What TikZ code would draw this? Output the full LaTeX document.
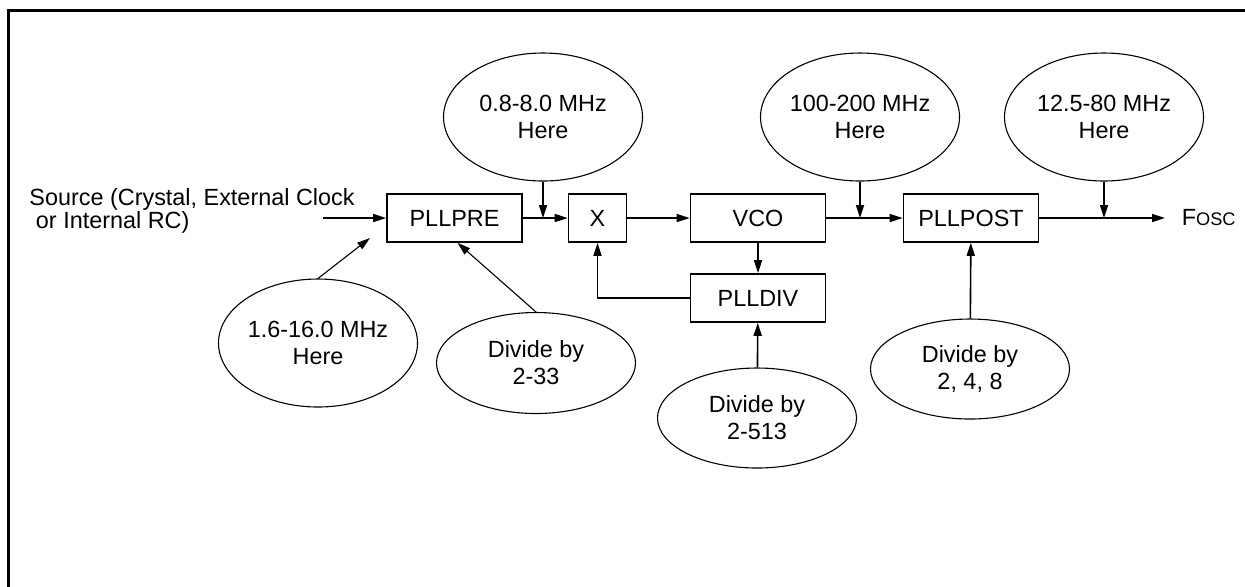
\documentclass[tikz,border=0pt]{standalone}
\usepackage{fontspec}
\setmainfont{Liberation Sans}
\usetikzlibrary{shapes.geometric,arrows.meta,positioning}

\begin{document}
\begin{tikzpicture}[x=0.5pt,y=-0.5pt,line width=0.8pt,
    font=\fontsize{11.7}{13.5}\selectfont,
    >={Triangle[length=6.5pt,width=4pt]},
    blk/.style={draw,minimum width=67.5pt,minimum height=24pt,inner sep=0pt},
    oval/.style={draw,ellipse,line width=0.55pt,align=center,inner sep=0pt,
                 minimum width=99.5pt,minimum height=64pt}]
 \useasboundingbox (0,0) rectangle (1245,586);
 \draw[line width=1.5pt] (8.5,600) |- (1260,10.5);

 \node[blk]                   (pre)  at (454.5,218) {PLLPRE};
 \node[blk,minimum width=29pt] (x)   at (597.5,218) {X};
 \node[blk]                   (vco)  at (758,218)   {VCO};
 \node[blk]                   (post) at (971,218)   {PLLPOST};
 \node[blk]                   (div)  at (758,298)   {PLLDIV};

 \node[oval] (f1) at (543,117)  {0.8-8.0 MHz\\Here};
 \node[oval] (f2) at (860,117)  {100-200 MHz\\Here};
 \node[oval] (f3) at (1104,117) {12.5-80 MHz\\Here};
 \node[oval] (f0) at (318,343)  {1.6-16.0 MHz\\Here};
 \node[oval,minimum height=50.5pt] (d1) at (536,363) {Divide by\\2-33};
 \node[oval,minimum height=50pt]   (d2) at (757,418) {Divide by\\2-513};
 \node[oval,minimum height=50pt]   (d3) at (970,369) {Divide by\\2, 4, 8};

 \node[anchor=west,align=left,font=\fontsize{11.7}{8.5}\selectfont] (src) at (22,211)
    {Source (Crystal, External Clock\\\ or Internal RC)};
 \node[anchor=west,inner xsep=8pt] (fosc) at (1165,218) {F{\fontsize{9.1}{11}\selectfont OSC}};

 \coordinate (in) at (323,218);
 \coordinate (c1) at (370,238);
 \draw[->] (in) -- (pre);
 \draw[->] (pre) -- (x);
 \draw[->] (x) -- (vco);
 \draw[->] (vco) -- (post);
 \draw[->] (post) -- (fosc);
 \draw[->] (vco) -- (div);
 \draw[->] (div) -| (x);
 \draw[->] (f1) -- (f1 |- pre.east);
 \draw[->] (f2) -- (f2 |- vco.east);
 \draw[->] (f3) -- (f3 |- post.east);
 \draw[->] (d2) -- (div);
 \draw[->] (d3) -- (post);
 \draw[->,line width=0.55pt] (d1.north) -- ([xshift=1.5pt]pre.south);
 \draw[->,line width=0.55pt] (f0.north) -- (c1);
\end{tikzpicture}
\end{document}
